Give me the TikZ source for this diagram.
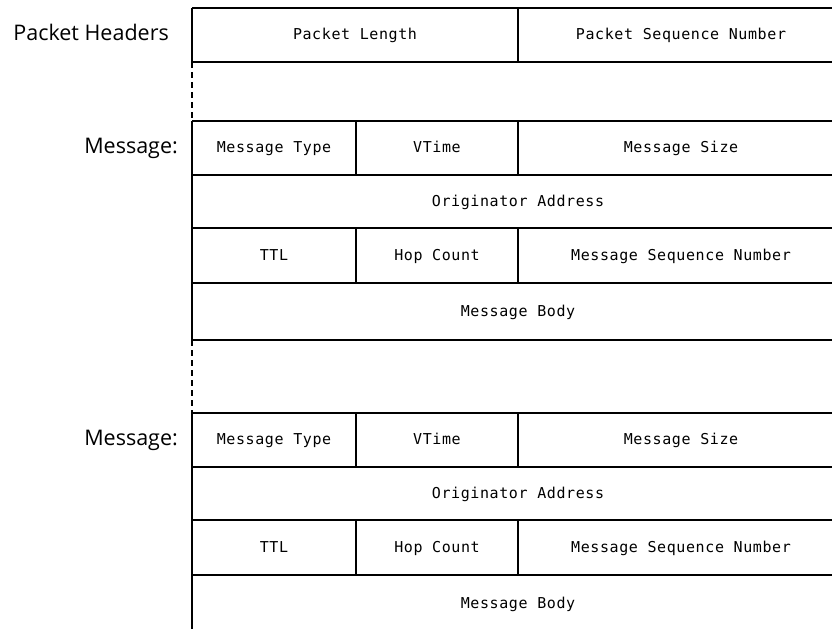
\documentclass[tikz,border=0pt]{standalone}
\usepackage{fontspec}
\newfontfamily\cellfont[LetterSpace=4]{DejaVu Sans Mono}
\newfontfamily\labelfont{Open Sans}

% one message record: name prefix #1, top edge #2, bottom rule drawn if #3=1, left rule length #4
\newcommand\msgblock[4]{%
  \begin{scope}[shift={(0,#2)}]
    \draw[rule] (192,0) -- (832,0) (192,54) -- (832,54)
                (192,107) -- (832,107) (192,162) -- (832,162);
    \draw[rule] (356,0) -- (356,54) (518,0) -- (518,54)
                (356,107) -- (356,162) (518,107) -- (518,162);
    \draw[rule] (192,0) -- (192,#4);
    \ifnum#3=1 \draw[rule] (192,219) -- (832,219);\fi
    \node[cell] (#1type) at (274,27)  {Message Type};
    \node[cell] (#1vtime) at (437,27) {VTime};
    \node[cell] (#1size) at (681,27)  {Message Size};
    \node[cell] (#1orig) at (518,81)  {Originator Address};
    \node[cell] (#1ttl) at (274,135)  {TTL};
    \node[cell] (#1hop) at (437,135)  {Hop Count};
    \node[cell] (#1seq) at (681,135)  {Message Sequence Number};
    \node[cell] (#1body) at (518,191) {Message Body};
  \end{scope}}

\begin{document}
\begin{tikzpicture}[x=1pt,y=-1pt,
  rule/.style={line width=1.4pt},
  gap/.style={line width=1.4pt, dash pattern=on 6pt off 4pt},
  cell/.style={font=\cellfont\fontsize{15}{15}\selectfont, inner sep=0pt,
               text height=11pt, text depth=3pt},
  side/.style={font=\labelfont\fontsize{21.5}{21.5}\selectfont, anchor=east,
               inner sep=0pt, text height=15pt, text depth=5pt}]
\useasboundingbox (0,0) rectangle (832,629);

% packet header row
\draw[rule] (192,8) -- (832,8) (192,62) -- (832,62);
\draw[rule] (192,8) -- (192,62) (518,8) -- (518,62);
\node[cell] (plen) at (355,35) {Packet Length};
\node[cell] (pseq) at (681,35) {Packet Sequence Number};
\node[side] (phead) at (169,35) {Packet Headers};

% dashed spans between records
\draw[gap] (192,62) -- (192,121);
\draw[gap] (192,340) -- (192,413);

% the two message records
\msgblock{a}{121}{1}{219}
\msgblock{b}{413}{0}{216}
\node[side] (mlabA) at (178,148) {Message:};
\node[side] (mlabB) at (178,440) {Message:};
\end{tikzpicture}
\end{document}
